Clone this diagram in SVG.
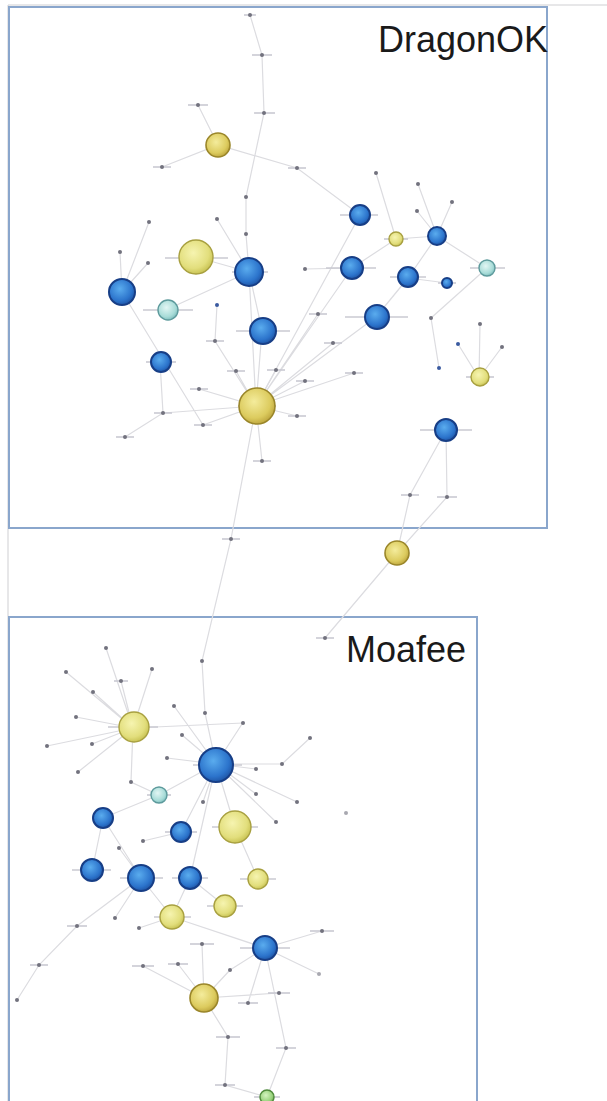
<svg xmlns="http://www.w3.org/2000/svg" xmlns:xlink="http://www.w3.org/1999/xlink" width="607" height="1101" viewBox="0 0 607 1101">
<style>
.frame{fill:none;stroke:#8aa6cc;stroke-width:2}
.outer{fill:none;stroke:#cfcfd2;stroke-width:1}
.title{font-family:"Liberation Sans",Arial,sans-serif;font-size:36px;fill:#1a1a1a}
.e{stroke:#dcdce0;stroke-width:1.2;fill:none}
.lb{stroke:#cacad2;stroke-width:1.6}
.d{fill:#72727e}
.db{fill:#3a5aa0}
.bl{fill:url(#gb);stroke:#173e86;stroke-width:2}
.ye{fill:url(#gy);stroke:#9a862a;stroke-width:1.6}
.yl{fill:url(#gyl);stroke:#a8a040;stroke-width:1.4}
.cy{fill:url(#gc);stroke:#5d9a9c;stroke-width:1.4}
.gr{fill:url(#gg);stroke:#4f8a3c;stroke-width:1.4}
</style>
<defs>
<radialGradient id="gb" cx="0.42" cy="0.38" r="0.65"><stop offset="0" stop-color="#5aacee"/><stop offset="0.7" stop-color="#2c74cc"/><stop offset="1" stop-color="#1d52a2"/></radialGradient>
<radialGradient id="gy" cx="0.42" cy="0.38" r="0.65"><stop offset="0" stop-color="#f4ec9c"/><stop offset="0.7" stop-color="#dccb5e"/><stop offset="1" stop-color="#bca43c"/></radialGradient>
<radialGradient id="gyl" cx="0.42" cy="0.38" r="0.65"><stop offset="0" stop-color="#f6f4b0"/><stop offset="0.7" stop-color="#e2de7c"/><stop offset="1" stop-color="#c6c050"/></radialGradient>
<radialGradient id="gc" cx="0.42" cy="0.38" r="0.65"><stop offset="0" stop-color="#e2f6f4"/><stop offset="0.7" stop-color="#a8dcd8"/><stop offset="1" stop-color="#7cbcbc"/></radialGradient>
<radialGradient id="gg" cx="0.42" cy="0.38" r="0.65"><stop offset="0" stop-color="#d4f4c0"/><stop offset="0.7" stop-color="#98d27c"/><stop offset="1" stop-color="#6aa650"/></radialGradient>
</defs>
<rect width="607" height="1101" fill="#ffffff"/>
<g id="frames">
<path class="outer" d="M8,5 H607 M8,5 V1101"/>
<rect class="frame" x="9" y="7" width="538" height="521"/>
<rect class="frame" x="9" y="617" width="468" height="490"/>
<text class="title" x="378" y="52">DragonOK</text>
<text class="title" x="346" y="662">Moafee</text>
</g>
<g id="connectors">
<path class="e" d="M250,15 L262,55 L264,113 L246,197 L246,234 L249,272"/>
<path class="e" d="M198,105 L218,145 M162,167 L218,145 L297,168 L360,215 M376,173 L396,239 M418,184 L437,236 M452,202 L437,236 M417,211 L437,236"/>
<path class="e" d="M217,219 L249,272 M149,222 L122,292 M120,252 L122,292 M148,263 L122,292 M196,257 L249,272 M305,269 L352,268"/>
<path class="e" d="M122,292 L203,425 M168,309 L249,272 M217,305 L215,341 L256,406 M249,272 L262,330 L256,406 M160,362 L163,413 L125,437 M163,413 L256,406 M199,389 L256,406 M203,425 L256,406 M236,371 L256,406 M276,370 L256,406 M297,416 L256,406 M262,461 L256,406"/>
<path class="e" d="M256,406 L352,268 M256,406 L376,317 M256,406 L318,314 M256,406 L333,343 M256,406 L354,373 M256,406 L305,381 M256,406 L360,215 M256,406 L249,272"/>
<path class="e" d="M352,268 L396,239 L437,236 M408,278 L437,236 L487,268 M447,283 L408,278 M487,268 L431,318 L439,368 M480,324 L479,378 M458,344 L479,378 M502,347 L479,378 M376,317 L408,278"/>
<path class="e" d="M446,430 L410,495 L397,553 M446,430 L447,497 L397,553 M397,553 L325,638 M256,406 L231,539 L202,661 L205,713 L216,764"/>
<path class="e" d="M133,728 L106,648 M133,728 L66,672 M133,728 L152,669 M133,728 L121,681 M133,728 L93,692 M133,728 L76,717 M133,728 L47,746 M133,728 L92,744 M133,728 L78,772 M133,728 L243,723 M133,728 L131,782 L159,795"/>
<path class="e" d="M174,706 L216,764 M182,735 L216,764 M167,758 L216,764 M242,724 L216,764 M256,769 L216,764 M282,764 L216,764 M282,764 L310,738 M256,794 L216,764 M297,802 L216,764 M276,822 L216,764 M203,802 L216,764 M159,795 L216,764 M159,795 L103,818 M181,832 L216,764 M216,764 L190,878 M216,764 L235,827"/>
<path class="e" d="M103,818 L92,871 M103,818 L141,878 M119,848 L141,878 M143,841 L181,832 M141,878 L77,926 L39,965 L17,1000 M141,878 L172,917 M190,878 L172,917 L265,948 M225,906 L190,878 M258,879 L235,827 M115,918 L141,878 M139,928 L172,917"/>
<path class="e" d="M265,948 L322,931 M265,948 L319,974 M202,944 L204,998 M143,966 L204,998 M178,964 L204,998 M230,970 L204,998 M204,998 L279,993 M204,998 L228,1037 L225,1085 L267,1097 M265,948 L248,1003 M265,948 L286,1048 L267,1097 M265,948 L230,970"/>
</g>
<g id="dots">
<g id="d1"><line class="lb" x1="244" y1="15" x2="256" y2="15"/><circle class="d" cx="250" cy="15" r="2"/></g>
<g id="d2"><line class="lb" x1="252" y1="55" x2="272" y2="55"/><circle class="d" cx="262" cy="55" r="2"/></g>
<g id="d3"><line class="lb" x1="188" y1="105" x2="208" y2="105"/><circle class="d" cx="198" cy="105" r="2"/></g>
<g id="d4"><line class="lb" x1="254" y1="113" x2="275" y2="113"/><circle class="d" cx="264" cy="113" r="2"/></g>
<g id="d5"><line class="lb" x1="153" y1="167" x2="171" y2="167"/><circle class="d" cx="162" cy="167" r="2"/></g>
<g id="d6"><line class="lb" x1="288" y1="168" x2="306" y2="168"/><circle class="d" cx="297" cy="168" r="2"/></g>
<g id="d7"><circle class="d" cx="246" cy="197" r="2"/></g>
<g id="d8"><circle class="d" cx="217" cy="219" r="2"/></g>
<g id="d9"><circle class="d" cx="246" cy="234" r="2"/></g>
<g id="d10"><circle class="d" cx="149" cy="222" r="2"/></g>
<g id="d11"><circle class="d" cx="120" cy="252" r="2"/></g>
<g id="d12"><circle class="d" cx="148" cy="263" r="2"/></g>
<g id="d13"><circle class="d" cx="376" cy="173" r="2"/></g>
<g id="d14"><circle class="d" cx="418" cy="184" r="2"/></g>
<g id="d15"><circle class="d" cx="452" cy="202" r="2"/></g>
<g id="d16"><circle class="d" cx="417" cy="211" r="2"/></g>
<g id="d17"><circle class="d" cx="305" cy="269" r="2"/></g>
<g id="d18"><circle class="db" cx="217" cy="305" r="2"/></g>
<g id="d19"><line class="lb" x1="206" y1="341" x2="224" y2="341"/><circle class="d" cx="215" cy="341" r="2"/></g>
<g id="d20"><line class="lb" x1="227" y1="371" x2="245" y2="371"/><circle class="d" cx="236" cy="371" r="2"/></g>
<g id="d21"><line class="lb" x1="267" y1="370" x2="285" y2="370"/><circle class="d" cx="276" cy="370" r="2"/></g>
<g id="d22"><line class="lb" x1="190" y1="389" x2="208" y2="389"/><circle class="d" cx="199" cy="389" r="2"/></g>
<g id="d23"><line class="lb" x1="154" y1="413" x2="172" y2="413"/><circle class="d" cx="163" cy="413" r="2"/></g>
<g id="d24"><line class="lb" x1="194" y1="425" x2="212" y2="425"/><circle class="d" cx="203" cy="425" r="2"/></g>
<g id="d25"><line class="lb" x1="116" y1="437" x2="134" y2="437"/><circle class="d" cx="125" cy="437" r="2"/></g>
<g id="d26"><line class="lb" x1="288" y1="416" x2="306" y2="416"/><circle class="d" cx="297" cy="416" r="2"/></g>
<g id="d27"><line class="lb" x1="253" y1="461" x2="271" y2="461"/><circle class="d" cx="262" cy="461" r="2"/></g>
<g id="d28"><line class="lb" x1="222" y1="539" x2="240" y2="539"/><circle class="d" cx="231" cy="539" r="2"/></g>
<g id="d29"><line class="lb" x1="309" y1="314" x2="327" y2="314"/><circle class="d" cx="318" cy="314" r="2"/></g>
<g id="d30"><line class="lb" x1="324" y1="343" x2="342" y2="343"/><circle class="d" cx="333" cy="343" r="2"/></g>
<g id="d31"><line class="lb" x1="345" y1="373" x2="363" y2="373"/><circle class="d" cx="354" cy="373" r="2"/></g>
<g id="d32"><line class="lb" x1="296" y1="381" x2="314" y2="381"/><circle class="d" cx="305" cy="381" r="2"/></g>
<g id="d33"><circle class="d" cx="431" cy="318" r="2"/></g>
<g id="d34"><circle class="d" cx="480" cy="324" r="2"/></g>
<g id="d35"><circle class="db" cx="458" cy="344" r="2"/></g>
<g id="d36"><circle class="d" cx="502" cy="347" r="2"/></g>
<g id="d37"><circle class="db" cx="439" cy="368" r="2"/></g>
<g id="d38"><line class="lb" x1="401" y1="495" x2="419" y2="495"/><circle class="d" cx="410" cy="495" r="2"/></g>
<g id="d39"><line class="lb" x1="437" y1="497" x2="457" y2="497"/><circle class="d" cx="447" cy="497" r="2"/></g>
<g id="d40"><line class="lb" x1="316" y1="638" x2="334" y2="638"/><circle class="d" cx="325" cy="638" r="2"/></g>
<g id="d41"><circle class="d" cx="202" cy="661" r="2"/></g>
<g id="d42"><circle class="d" cx="106" cy="648" r="2"/></g>
<g id="d43"><circle class="d" cx="66" cy="672" r="2"/></g>
<g id="d44"><circle class="d" cx="152" cy="669" r="2"/></g>
<g id="d45"><line class="lb" x1="114" y1="681" x2="128" y2="681"/><circle class="d" cx="121" cy="681" r="2"/></g>
<g id="d46"><circle class="d" cx="93" cy="692" r="2"/></g>
<g id="d47"><circle class="d" cx="174" cy="706" r="2"/></g>
<g id="d48"><circle class="d" cx="205" cy="713" r="2"/></g>
<g id="d49"><circle class="d" cx="243" cy="723" r="2"/></g>
<g id="d50"><circle class="d" cx="76" cy="717" r="2"/></g>
<g id="d51"><circle class="d" cx="182" cy="735" r="2"/></g>
<g id="d52"><circle class="d" cx="47" cy="746" r="2"/></g>
<g id="d53"><circle class="d" cx="92" cy="744" r="2"/></g>
<g id="d54"><circle class="d" cx="167" cy="758" r="2"/></g>
<g id="d55"><circle class="d" cx="78" cy="772" r="2"/></g>
<g id="d56"><circle class="d" cx="131" cy="782" r="2"/></g>
<g id="d57"><circle class="d" cx="256" cy="769" r="2"/></g>
<g id="d58"><circle class="d" cx="282" cy="764" r="2"/></g>
<g id="d59"><circle class="d" cx="310" cy="738" r="2"/></g>
<g id="d60"><circle class="d" cx="256" cy="794" r="2"/></g>
<g id="d61"><circle class="d" cx="297" cy="802" r="2"/></g>
<g id="d62"><circle class="d" cx="203" cy="802" r="2"/></g>
<g id="d63"><circle class="d" cx="276" cy="822" r="2"/></g>
<g id="d64"><circle fill="#a8a8b0" cx="346" cy="813" r="2"/></g>
<g id="d65"><circle class="d" cx="143" cy="841" r="2"/></g>
<g id="d66"><circle class="d" cx="119" cy="848" r="2"/></g>
<g id="d67"><line class="lb" x1="67" y1="926" x2="87" y2="926"/><circle class="d" cx="77" cy="926" r="2"/></g>
<g id="d68"><circle class="d" cx="115" cy="918" r="2"/></g>
<g id="d69"><circle class="d" cx="139" cy="928" r="2"/></g>
<g id="d70"><line class="lb" x1="310" y1="931" x2="334" y2="931"/><circle class="d" cx="322" cy="931" r="2"/></g>
<g id="d71"><line class="lb" x1="30" y1="965" x2="48" y2="965"/><circle class="d" cx="39" cy="965" r="2"/></g>
<g id="d72"><line class="lb" x1="132" y1="966" x2="154" y2="966"/><circle class="d" cx="143" cy="966" r="2"/></g>
<g id="d73"><line class="lb" x1="168" y1="964" x2="188" y2="964"/><circle class="d" cx="178" cy="964" r="2"/></g>
<g id="d74"><line class="lb" x1="190" y1="944" x2="214" y2="944"/><circle class="d" cx="202" cy="944" r="2"/></g>
<g id="d75"><circle class="d" cx="230" cy="970" r="2"/></g>
<g id="d76"><circle fill="#a8a8b0" cx="319" cy="974" r="2"/></g>
<g id="d77"><line class="lb" x1="268" y1="993" x2="290" y2="993"/><circle class="d" cx="279" cy="993" r="2"/></g>
<g id="d78"><line class="lb" x1="238" y1="1003" x2="258" y2="1003"/><circle class="d" cx="248" cy="1003" r="2"/></g>
<g id="d79"><circle class="d" cx="17" cy="1000" r="2"/></g>
<g id="d80"><line class="lb" x1="216" y1="1037" x2="240" y2="1037"/><circle class="d" cx="228" cy="1037" r="2"/></g>
<g id="d81"><line class="lb" x1="276" y1="1048" x2="296" y2="1048"/><circle class="d" cx="286" cy="1048" r="2"/></g>
<g id="d82"><line class="lb" x1="215" y1="1085" x2="235" y2="1085"/><circle class="d" cx="225" cy="1085" r="2"/></g>
</g>
<g id="nodes">
<g id="y1"><circle class="ye" cx="218" cy="145" r="12"/></g>
<g id="y2"><line class="lb" x1="165" y1="258" x2="228" y2="258" stroke="#d8d48a"/><circle class="yl" cx="196" cy="257" r="17"/></g>
<g id="y3"><line class="lb" x1="238" y1="406" x2="276" y2="406"/><circle class="ye" cx="257" cy="406" r="18"/></g>
<g id="y4"><line class="lb" x1="384" y1="239" x2="408" y2="239"/><circle class="yl" cx="396" cy="239" r="7"/></g>
<g id="y5"><line class="lb" x1="466" y1="377" x2="494" y2="377"/><circle class="yl" cx="480" cy="377" r="9"/></g>
<g id="y6"><circle class="ye" cx="397" cy="553" r="12"/></g>
<g id="b1"><circle class="bl" cx="122" cy="292" r="13"/></g>
<g id="b2"><line class="lb" x1="232" y1="272" x2="268" y2="272"/><circle class="bl" cx="249" cy="272" r="14"/></g>
<g id="b3"><line class="lb" x1="236" y1="331" x2="290" y2="331"/><circle class="bl" cx="263" cy="331" r="13"/></g>
<g id="b4"><line class="lb" x1="146" y1="362" x2="176" y2="362"/><circle class="bl" cx="161" cy="362" r="10"/></g>
<g id="b5"><line class="lb" x1="340" y1="215" x2="378" y2="215"/><circle class="bl" cx="360" cy="215" r="10"/></g>
<g id="b6"><line class="lb" x1="326" y1="268" x2="376" y2="268"/><circle class="bl" cx="352" cy="268" r="11"/></g>
<g id="b7"><circle class="bl" cx="437" cy="236" r="9"/></g>
<g id="b8"><line class="lb" x1="390" y1="277" x2="426" y2="277"/><circle class="bl" cx="408" cy="277" r="10"/></g>
<g id="b9"><line class="lb" x1="438" y1="283" x2="456" y2="283"/><circle class="bl" cx="447" cy="283" r="5"/></g>
<g id="b10"><line class="lb" x1="345" y1="317" x2="408" y2="317"/><circle class="bl" cx="377" cy="317" r="12"/></g>
<g id="b11"><line class="lb" x1="420" y1="430" x2="472" y2="430"/><circle class="bl" cx="446" cy="430" r="11"/></g>
<g id="c1"><line class="lb" x1="143" y1="310" x2="193" y2="310"/><circle class="cy" cx="168" cy="310" r="10"/></g>
<g id="c2"><line class="lb" x1="470" y1="268" x2="505" y2="268"/><circle class="cy" cx="487" cy="268" r="8"/></g>
<g id="y7"><line class="lb" x1="108" y1="727" x2="158" y2="727"/><circle class="yl" cx="134" cy="727" r="15"/></g>
<g id="b12"><line class="lb" x1="193" y1="765" x2="242" y2="765"/><circle class="bl" cx="216" cy="765" r="17"/></g>
<g id="c3"><line class="lb" x1="147" y1="795" x2="171" y2="795"/><circle class="cy" cx="159" cy="795" r="8"/></g>
<g id="b13"><line class="lb" x1="92" y1="818" x2="114" y2="818"/><circle class="bl" cx="103" cy="818" r="10"/></g>
<g id="b14"><line class="lb" x1="165" y1="832" x2="197" y2="832"/><circle class="bl" cx="181" cy="832" r="10"/></g>
<g id="y8"><line class="lb" x1="212" y1="827" x2="258" y2="827"/><circle class="yl" cx="235" cy="827" r="16"/></g>
<g id="b15"><line class="lb" x1="72" y1="870" x2="111" y2="870"/><circle class="bl" cx="92" cy="870" r="11"/></g>
<g id="b16"><line class="lb" x1="120" y1="878" x2="163" y2="878"/><circle class="bl" cx="141" cy="878" r="13"/></g>
<g id="b17"><line class="lb" x1="172" y1="878" x2="208" y2="878"/><circle class="bl" cx="190" cy="878" r="11"/></g>
<g id="y9"><line class="lb" x1="240" y1="879" x2="276" y2="879"/><circle class="yl" cx="258" cy="879" r="10"/></g>
<g id="y10"><line class="lb" x1="207" y1="906" x2="243" y2="906"/><circle class="yl" cx="225" cy="906" r="11"/></g>
<g id="y11"><line class="lb" x1="154" y1="917" x2="191" y2="917"/><circle class="yl" cx="172" cy="917" r="12"/></g>
<g id="b18"><line class="lb" x1="240" y1="948" x2="290" y2="948"/><circle class="bl" cx="265" cy="948" r="12"/></g>
<g id="y12"><circle class="ye" cx="204" cy="998" r="14"/></g>
<g id="g1"><line class="lb" x1="254" y1="1097" x2="280" y2="1097"/><circle class="gr" cx="267" cy="1097" r="7"/></g>
</g>
</svg>
